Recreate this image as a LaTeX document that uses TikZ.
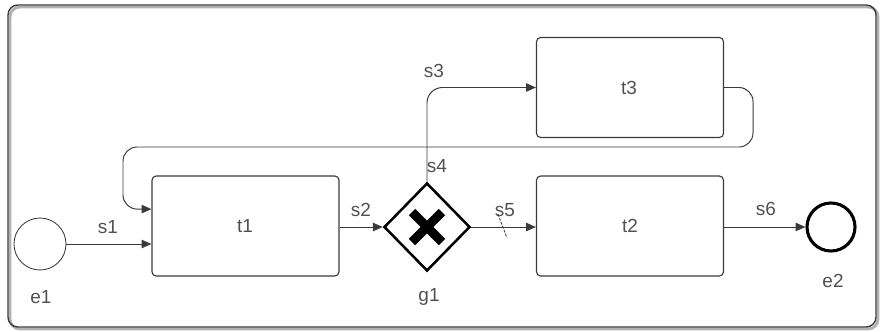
\documentclass[tikz,border=0pt]{standalone}
\usepackage{fontspec}
\setmainfont{Liberation Sans}
\usetikzlibrary{arrows.meta,shapes.geometric}
\definecolor{linegray}{HTML}{3A3A3A}
\definecolor{textgray}{HTML}{505050}

\begin{document}
\begin{tikzpicture}[x=0.025cm,y=-0.025cm,
 task/.style={draw=linegray,line width=0.8pt,rounded corners=3pt,minimum width=4.675cm,minimum height=2.5cm,inner sep=0pt},
 event/.style={circle,draw=linegray,line width=0.6pt,minimum size=1.3cm,inner sep=0pt},
 endevent/.style={circle,draw=black,line width=2.2pt,minimum size=1.2cm,inner sep=0pt},
 gateway/.style={diamond,draw=black,line width=1.8pt,minimum width=2.15cm,minimum height=2.2cm,inner sep=0pt},
 flow/.style={draw=linegray,line width=0.7pt,-{Triangle[length=7pt,width=6pt]}},
 lbl/.style={text=textgray,font=\fontsize{13.5}{15}\selectfont,inner sep=0pt}]
 \useasboundingbox (0,0) rectangle (880,331);
 % frame
 \draw[gray!60,line width=2pt,rounded corners=7pt] (10,7) rectangle (878,329);
 \draw[linegray,line width=1pt,rounded corners=7pt] (8,5) rectangle (876,327);
 % nodes
 \node[event] (e1) at (40,244) {};
 \node[task] (t1) at (245.5,226) {};
 \node[gateway] (g1) at (427,227) {};
 \node[task] (t2) at (630,226) {};
 \node[task] (t3) at (630,87.5) {};
 \node[endevent] (e2) at (831,227) {};
 \draw[black,line width=6.5pt] (412,212) -- (442,242) (412,242) -- (442,212);
 % labels
 \node[lbl] at (245,226) {t1};
 \node[lbl] at (630,226) {t2};
 \node[lbl] at (629,88) {t3};
 \node[lbl] at (41,297) {e1};
 \node[lbl] at (833,281) {e2};
 \node[lbl] at (429,297) {g1};
 \node[lbl] at (108,227) {s1};
 \node[lbl] at (361,210) {s2};
 \node[lbl] at (434,71) {s3};
 \node[lbl] at (437,166) {s4};
 \node[lbl] at (505,210) {s5};
 \node[lbl] at (766,209) {s6};
 % flows
 \draw[flow] (e1.east) -- (e1 -| t1.west);
 \draw[flow] (t1.east |- g1) -- (g1.west);
 \draw[flow,rounded corners=11pt] (g1.north) |- (t3.west);
 \draw[flow,rounded corners=10pt] (t3.east) -- (753,87.5) -- (753,147) -- (123,147) -- (123,209) -- ([yshift=12pt]t1.west);
 \draw[flow] (g1.east) -- (t2.west |- g1);
 \draw[linegray,line width=0.6pt,dash pattern=on 2pt off 1pt] (498,214) -- (507,238);
 \draw[flow] (t2.east |- e2) -- (e2.west);
\end{tikzpicture}
\end{document}
